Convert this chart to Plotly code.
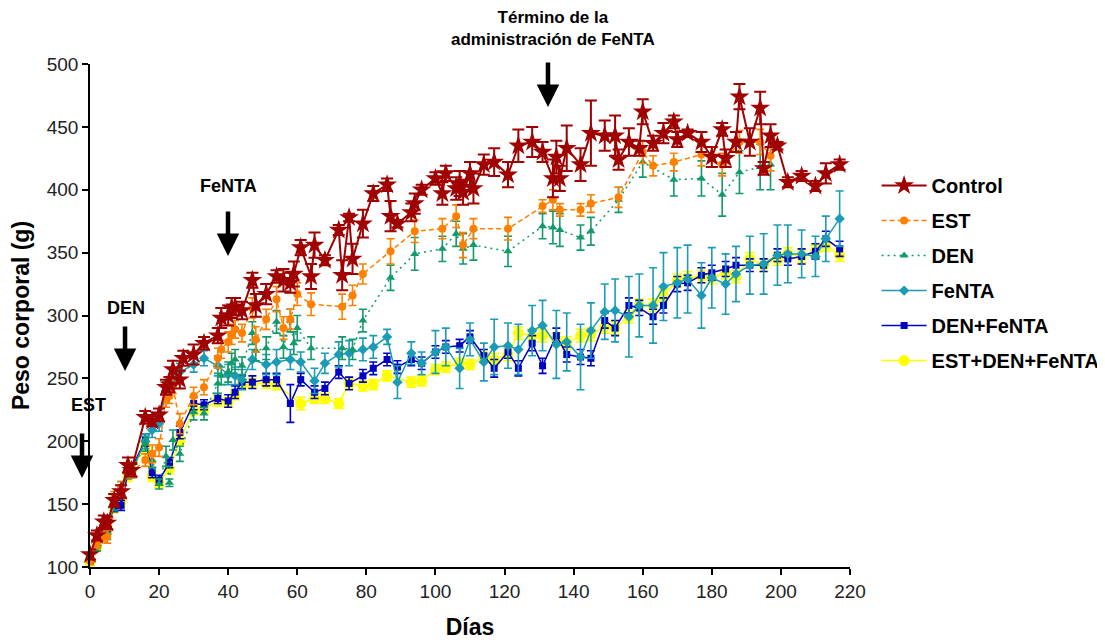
import plotly.graph_objects as go

# ---------------- data ----------------
control_days = [0, 2, 4, 5, 7, 9, 11, 12, 16, 18,
                20, 22, 23, 24, 26, 27, 30, 33, 37, 38,
                40, 41, 42, 44, 47, 48, 51, 54, 56, 58,
                59, 61, 64, 65, 68, 72, 73, 75, 76, 79,
                82, 86, 87, 89, 93, 94, 96, 100, 102, 103,
                106, 107, 108, 110, 111, 114, 117, 121, 124, 128,
                131, 134, 135, 136, 138, 142, 145, 149, 152, 153,
                156, 159, 160, 163, 166, 169, 170, 173, 177, 180,
                183, 184, 187, 188, 191, 194, 195, 197, 199, 202,
                206, 210, 213, 217]
control_mean = [110, 125, 136, 135, 153, 160, 181, 177, 219, 216,
                221, 243, 245, 257, 249, 266, 269, 278, 284, 298,
                300, 306, 307, 304, 328, 308, 317, 331, 328, 326,
                333, 354, 331, 356, 344, 368, 332, 378, 345, 373,
                397, 404, 379, 373, 382, 389, 400, 409, 397, 413,
                401, 405, 398, 413, 401, 420, 422, 412, 435, 438,
                430, 409, 426, 409, 433, 420, 445, 443, 443, 424,
                438, 433, 462, 437, 445, 454, 440, 445, 438, 426,
                448, 425, 438, 474, 438, 465, 417, 443, 435, 406,
                411, 403, 413, 420]
control_err = [4, 4, 5, 5, 5, 5, 6, 5, 5, 4,
               5, 6, 6, 7, 7, 6, 8, 5, 6, 8,
               8, 8, 7, 7, 6, 9, 8, 5, 9, 8,
               10, 6, 10, 10, 4, 4, 12, 3, 12, 11,
               6, 5, 12, 3, 7, 8, 4, 5, 9, 6,
               9, 10, 10, 9, 12, 8, 11, 10, 13, 12,
               8, 15, 13, 10, 18, 13, 26, 12, 16, 8,
               11, 6, 10, 6, 8, 5, 6, 3, 8, 8,
               5, 7, 8, 10, 11, 13, 5, 9, 3, 4,
               4, 4, 8, 4]

est_days = [0, 2, 4, 5, 7, 9, 11, 12, 16, 18,
            20, 22, 23, 24, 26, 30, 33, 37, 38, 40,
            41, 42, 44, 47, 48, 51, 54, 56, 58, 60,
            64, 73, 76, 79, 87, 94, 102, 106, 108, 111,
            121, 131, 134, 136, 142, 145, 153, 160, 163, 169,
            177, 183, 188, 194, 197]
est_mean = [105, 118, 125, 124, 155, 163, 176, 175, 185, 190,
            195, 233, 236, 244, 214, 236, 243, 266, 273, 279,
            285, 289, 286, 306, 281, 297, 313, 290, 297, 317,
            309, 307, 316, 333, 351, 367, 369, 379, 356, 369,
            369, 387, 392, 384, 384, 389, 394, 430, 419, 422,
            428, 420, 438, 438, 427]
est_err = [3, 3, 5, 5, 5, 5, 5, 4, 5, 7,
           7, 6, 6, 6, 8, 7, 6, 8, 7, 8,
           8, 7, 7, 8, 10, 8, 10, 9, 8, 9,
           9, 10, 8, 8, 10, 9, 8, 9, 10, 8,
           9, 5, 8, 5, 5, 7, 8, 9, 8, 7,
           9, 9, 9, 10, 12]

den_days = [0, 2, 4, 5, 7, 9, 11, 12, 16, 18,
            20, 22, 23, 24, 26, 30, 33, 37, 38, 40,
            41, 42, 44, 47, 48, 51, 54, 56, 58, 59,
            60, 64, 73, 76, 79, 87, 94, 102, 106, 108,
            111, 121, 131, 134, 136, 142, 145, 153, 160, 169,
            177, 183, 188, 194, 197]
den_mean = [105, 117, 128, 127, 150, 163, 175, 176, 198, 185,
            166, 188, 167, 201, 190, 223, 222, 246, 252, 255,
            262, 265, 260, 286, 272, 274, 295, 275, 296, 278,
            290, 274, 274, 273, 296, 330, 349, 353, 365, 353,
            356, 351, 371, 370, 368, 362, 367, 392, 422, 408,
            409, 396, 414, 418, 420]
den_err = [3, 4, 5, 5, 5, 5, 5, 5, 6, 6,
           4, 8, 3, 8, 6, 6, 5, 8, 7, 8,
           8, 8, 7, 9, 8, 9, 9, 9, 9, 9,
           10, 9, 9, 8, 9, 10, 13, 10, 10, 12,
           12, 12, 10, 13, 13, 10, 11, 10, 12, 13,
           14, 17, 17, 18, 20]

fenta_days = [0, 2, 4, 5, 7, 9, 11, 12, 16, 18,
              20, 22, 24, 26, 30, 33, 37, 40, 42, 44,
              47, 51, 54, 58, 61, 65, 68, 72, 75, 79,
              82, 86, 89, 93, 96, 100, 103, 107, 110, 114,
              117, 121, 124, 128, 131, 135, 138, 142, 145, 149,
              152, 156, 159, 163, 166, 170, 173, 177, 180, 184,
              187, 191, 195, 199, 202, 206, 210, 213, 217]
fenta_mean = [106, 117, 133, 132, 150, 160, 177, 176, 200, 209,
              214, 240, 250, 255, 261, 266, 260, 253, 252, 249,
              265, 261, 263, 265, 263, 248, 262, 269, 270, 273,
              275, 283, 247, 270, 262, 271, 275, 258, 281, 263,
              275, 276, 273, 288, 292, 277, 279, 267, 288, 303,
              304, 299, 308, 308, 323, 326, 329, 316, 330, 325,
              333, 340, 341, 348, 349, 349, 347, 361, 377]
fenta_err = [4, 4, 5, 5, 5, 5, 5, 5, 6, 6,
             6, 7, 7, 7, 6, 6, 8, 8, 7, 8,
             8, 8, 10, 8, 8, 10, 8, 10, 10, 9,
             9, 6, 13, 9, 9, 17, 15, 16, 13, 15,
             22, 18, 20, 20, 20, 27, 23, 26, 22, 22,
             25, 32, 25, 30, 27, 28, 27, 26, 24, 24,
             22, 23, 24, 24, 23, 19, 16, 18, 22]

denfenta_days = [0, 2, 4, 5, 7, 9, 11, 12, 16, 18,
                 20, 23, 26, 30, 33, 37, 40, 42, 44, 47,
                 51, 54, 58, 61, 65, 68, 72, 75, 79, 82,
                 86, 89, 93, 96, 100, 103, 107, 110, 114, 117,
                 121, 124, 128, 131, 135, 138, 142, 145, 149, 152,
                 156, 159, 163, 166, 170, 173, 177, 180, 184, 187,
                 191, 195, 199, 202, 206, 210, 213, 217]
denfenta_mean = [106, 118, 133, 132, 148, 149, 175, 178, 201, 175,
                 169, 183, 207, 230, 229, 234, 232, 239, 247, 247,
                 249, 249, 230, 249, 239, 242, 255, 246, 252, 258,
                 265, 259, 265, 262, 271, 275, 276, 283, 268, 258,
                 271, 258, 278, 260, 284, 269, 267, 266, 296, 290,
                 308, 306, 299, 308, 325, 326, 332, 334, 337, 340,
                 340, 340, 348, 345, 347, 351, 361, 353]
denfenta_err = [3, 3, 4, 4, 4, 4, 4, 4, 5, 4,
                4, 4, 5, 5, 4, 4, 5, 5, 5, 5,
                5, 5, 15, 5, 5, 5, 5, 5, 5, 5,
                5, 5, 5, 5, 5, 5, 5, 5, 5, 7,
                5, 6, 6, 6, 6, 6, 6, 6, 6, 6,
                6, 6, 6, 6, 6, 6, 6, 6, 6, 6,
                5, 5, 5, 5, 6, 6, 6, 6]

triple_days = [0, 2, 4, 5, 7, 9, 11, 12, 16, 18,
               20, 23, 26, 30, 33, 37, 40, 42, 44, 47,
               51, 54, 61, 65, 68, 72, 75, 79, 82, 86,
               93, 96, 100, 103, 107, 110, 114, 117, 121, 124,
               128, 131, 135, 138, 142, 145, 149, 152, 156, 159,
               163, 166, 170, 173, 177, 180, 184, 187, 191, 195,
               199, 202, 206, 210, 213, 217]
triple_mean = [104, 116, 130, 130, 147, 152, 172, 177, 195, 172,
               167, 178, 200, 225, 226, 232, 231, 237, 245, 246,
               246, 245, 230, 234, 234, 230, 246, 244, 245, 252,
               247, 248, 257, 259, 262, 261, 267, 265, 269, 286,
               284, 284, 281, 278, 284, 285, 291, 290, 299, 308,
               308, 316, 328, 330, 331, 330, 334, 331, 345, 340,
               345, 349, 347, 351, 356, 348]
triple_err = [3, 3, 4, 4, 4, 4, 4, 4, 4, 4,
              4, 4, 4, 4, 4, 4, 4, 4, 4, 4,
              4, 4, 5, 4, 4, 4, 4, 4, 4, 4,
              4, 4, 4, 4, 4, 4, 4, 5, 5, 5,
              5, 5, 5, 5, 5, 5, 5, 5, 5, 5,
              5, 5, 5, 5, 5, 5, 5, 5, 5, 5,
              5, 5, 5, 5, 5, 5]

x_ticks = list(range(0, 221, 20))
y_ticks = list(range(100, 501, 50))

# ---------------- figure ----------------
FONT = "Arial, Liberation Sans, sans-serif"

series = [
    # name, days, mean, err, color, symbol, size, dash, lw, cap, rank
    ("EST+DEN+FeNTA", triple_days, triple_mean, triple_err, "#FFFF00", "circle", 11, "solid", 1.5, 5, 6),
    ("DEN+FeNTA", denfenta_days, denfenta_mean, denfenta_err, "#0000C0", "square", 7, "solid", 1.5, 4, 5),
    ("FeNTA", fenta_days, fenta_mean, fenta_err, "#1B9BB5", "diamond", 8, "solid", 1.5, 4, 4),
    ("DEN", den_days, den_mean, den_err, "#129A6C", "triangle-up", 8, "2px,4px", 1.5, 4, 3),
    ("EST", est_days, est_mean, est_err, "#FF8000", "circle", 8, "5px,3px", 1.5, 4, 2),
    ("Control", control_days, control_mean, control_err, "#A00000", "star", 15, "solid", 2, 6, 1),
]

fig = go.Figure()
for name, d, m, e, col, sym, sz, dash, lw, cap, rank in series:
    assert len(d) == len(m) == len(e), name
    fig.add_trace(go.Scatter(
        x=d, y=m, name=name, mode="lines+markers",
        line=dict(color=col, width=lw, dash=dash),
        marker=dict(symbol=sym, size=sz, color=col, line=dict(width=0)),
        error_y=dict(type="data", array=e, visible=True, color=col,
                     thickness=1.6 if name != "Control" else 2, width=cap),
        legendrank=rank, legendgroup=name, cliponaxis=False,
    ))

fig.update_layout(
    width=1105, height=640,
    margin=dict(l=82, r=263, t=56, b=81, autoexpand=False),
    paper_bgcolor="white", plot_bgcolor="white",
    font=dict(family=FONT, color="#1a1a1a"),
    showlegend=True,
    legend=dict(x=1.035, xanchor="left", y=0.797, yanchor="top",
                font=dict(size=20, family=FONT, color="black", weight="bold"),
                tracegroupgap=6, itemwidth=45, bgcolor="rgba(0,0,0,0)"),
    xaxis=dict(range=[0, 220], tickvals=x_ticks, showgrid=False, zeroline=False,
               showline=True, linecolor="black", linewidth=1.5, automargin=False,
               ticks="outside", ticklen=6, tickwidth=1.5, tickcolor="black",
               tickfont=dict(size=19, family=FONT, color="#222"),
               title=dict(text="<b>Días</b>", font=dict(size=23, family=FONT, color="black"),
                          standoff=18)),
    yaxis=dict(range=[100, 500], tickvals=y_ticks, showgrid=False, zeroline=False,
               showline=True, linecolor="black", linewidth=1.5, automargin=False,
               ticks="outside", ticklen=6, tickwidth=1.5, tickcolor="black",
               tickfont=dict(size=19, family=FONT, color="#222"),
               title=dict(text="<b>Peso corporal (g)</b>", font=dict(size=23, family=FONT, color="black"),
                          standoff=12)),
)

# labels and arrows (paper coordinates)
labels = [
    ("<b>Término de la<br>administración de FeNTA</b>", 0.6092, 1.0705, 17),
    ("<b>FeNTA</b>", 0.1816, 0.7575, 18),
    ("<b>DEN</b>", 0.0474, 0.5149, 18),
    ("<b>EST</b>", -0.0026, 0.322, 18),
]
for txt, x, y, fs in labels:
    fig.add_annotation(text=txt, x=x, y=y, xref="paper", yref="paper",
                       showarrow=False, xanchor="center", yanchor="middle",
                       font=dict(size=fs, family=FONT, color="black"))

arrows = [(0.6026, 0.9145), (0.1816, 0.6183), (0.0461, 0.3897), (-0.0105, 0.1769)]
for x, y in arrows:
    fig.add_annotation(text="", x=x, y=y, xref="paper", yref="paper",
                       showarrow=True, ax=0, ay=-46, arrowhead=2, arrowsize=1,
                       arrowwidth=4.5, arrowcolor="black")

fig.write_html("out.html")
